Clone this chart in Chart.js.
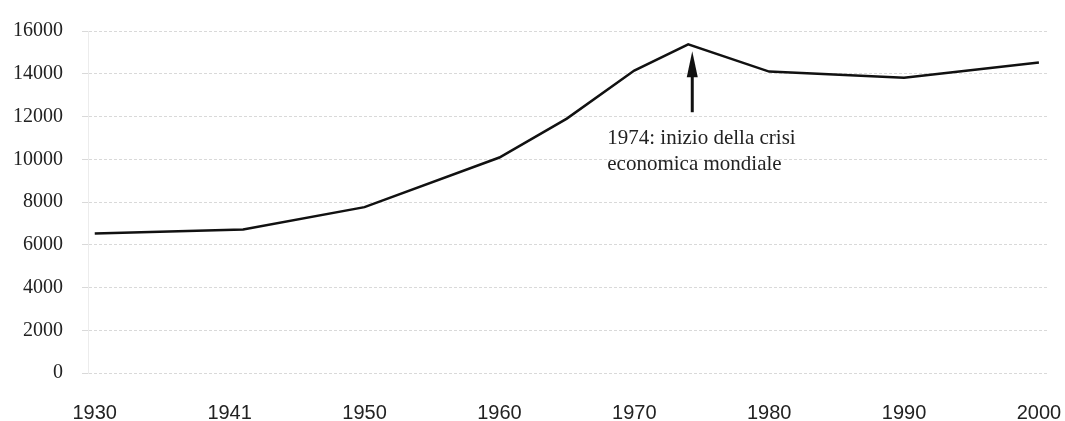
<!DOCTYPE html>
<html><head><meta charset="utf-8">
<script src="https://cdn.jsdelivr.net/npm/chart.js@4/dist/chart.umd.min.js"></script>
<style>html,body{margin:0;padding:0;background:#fff}#wrap{width:1065px;height:421px;position:relative}</style>
</head><body><div id="wrap"><canvas id="c"></canvas></div>
<script>
const years = [1930, 1941, 1950, 1960, 1965, 1970, 1974, 1980, 1990, 2000];
const values = [6530, 6710, 7760, 10080, 11900, 14150, 15380, 14100, 13810, 14530];
const tickYears = [1930, 1940, 1950, 1960, 1970, 1980, 1990, 2000];
const tickLabels = ['1930', '1941', '1950', '1960', '1970', '1980', '1990', '2000'];
const yTicks = [0, 2000, 4000, 6000, 8000, 10000, 12000, 14000, 16000];
const noteYear = 1974.3;
const noteArrowFrom = 12200;
const noteArrowTo = 15050;
const noteTextYear = 1968;
const noteTextValues = [10990, 9745];
const noteLines = ['1974: inizio della crisi', 'economica mondiale'];

const notePlugin = {
  id: 'note',
  afterDatasetsDraw(chart) {
    const {ctx, scales: {x, y}} = chart;
    const ax = x.getPixelForValue(noteYear);
    const yTop = y.getPixelForValue(noteArrowTo);
    const yBot = y.getPixelForValue(noteArrowFrom);
    ctx.save();
    ctx.strokeStyle = '#111';
    ctx.fillStyle = '#111';
    ctx.lineWidth = 3;
    ctx.beginPath();
    ctx.moveTo(ax, yBot);
    ctx.lineTo(ax, yTop + 20);
    ctx.stroke();
    ctx.beginPath();
    ctx.moveTo(ax, yTop);
    ctx.lineTo(ax - 5.5, yTop + 26);
    ctx.lineTo(ax + 5.5, yTop + 26);
    ctx.closePath();
    ctx.fill();
    ctx.font = '21px "Liberation Serif"';
    ctx.fillStyle = '#222';
    ctx.textAlign = 'left';
    ctx.textBaseline = 'middle';
    const tx = x.getPixelForValue(noteTextYear);
    noteLines.forEach((t, i) => ctx.fillText(t, tx, y.getPixelForValue(noteTextValues[i])));
    ctx.restore();
  }
};

new Chart(document.getElementById('c'), {
  type: 'line',
  data: {
    datasets: [{
      data: years.map((yr, i) => ({x: yr, y: values[i]})),
      borderColor: '#111',
      borderWidth: 2.5,
      pointRadius: 0,
      tension: 0,
      fill: false
    }]
  },
  options: {
    responsive: true,
    maintainAspectRatio: false,
    animation: false,
    events: [],
    layout: {padding: {top: 27, right: 18, left: 0, bottom: 0}},
    plugins: {legend: {display: false}, tooltip: {enabled: false}},
    scales: {
      x: {
        type: 'linear',
        min: 1929.5,
        max: 2000.6,
        afterBuildTicks(scale) { scale.ticks = tickYears.map(v => ({value: v})); },
        afterFit(scale) { scale.height = 48; scale.paddingLeft = 0; scale.paddingRight = 0; },
        grid: {display: false, drawTicks: false},
        border: {display: false},
        ticks: {
          autoSkip: false,
          maxRotation: 0,
          padding: 28,
          color: '#222',
          font: {family: '"Liberation Sans", Arial, sans-serif', size: 20},
          callback: (v, i) => tickLabels[i]
        }
      },
      y: {
        min: 0,
        max: 16000,
        afterBuildTicks(scale) { scale.ticks = yTicks.map(v => ({value: v})); },
        afterFit(scale) { scale.width = 88; },
        grid: {color: '#d9d9d9', lineWidth: 1, tickLength: 6, tickColor: '#d9d9d9'},
        border: {display: true, color: '#ececec', dash: [3, 2]},
        ticks: {
          padding: 19,
          color: '#222',
          font: {family: '"Liberation Serif", "Times New Roman", serif', size: 20},
          callback: (v) => String(v)
        }
      }
    }
  },
  plugins: [notePlugin]
});
</script></body></html>
